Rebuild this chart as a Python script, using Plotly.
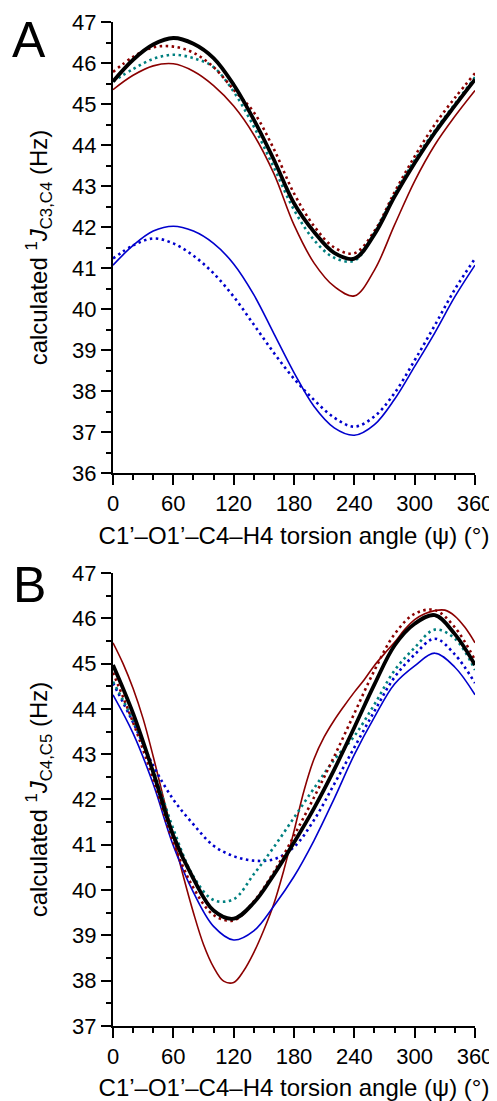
import plotly.graph_objects as go

angles = list(range(0, 361, 20))
angles_fine = list(range(0, 361, 10))

# Panel A: 1J C3,C4
a_black = [45.55, 46.08, 46.45, 46.61, 46.47, 46.12, 45.47, 44.62, 43.64, 42.58, 41.88, 41.37, 41.23, 41.82, 42.74, 43.56, 44.3, 44.96, 45.6]
a_red_dot = [45.78, 46.15, 46.38, 46.4, 46.25, 45.9, 45.35, 44.8, 43.9, 42.82, 42.02, 41.5, 41.36, 41.9, 42.85, 43.72, 44.5, 45.15, 45.75]
a_teal_dot = [45.55, 45.85, 46.1, 46.2, 46.12, 45.9, 45.3, 44.45, 43.45, 42.42, 41.68, 41.25, 41.18, 41.86, 42.8, 43.63, 44.35, 45.0, 45.65]
a_red = [45.35, 45.7, 45.93, 45.98, 45.8, 45.45, 44.95, 44.25, 43.3, 42.05, 41.12, 40.55, 40.32, 40.95, 42.05, 43.12, 44.0, 44.7, 45.33]
a_blue = [41.07, 41.55, 41.9, 42.02, 41.9, 41.6, 41.1, 40.35, 39.4, 38.45, 37.62, 37.1, 36.92, 37.18, 37.8, 38.6, 39.42, 40.3, 41.07]
a_blue_dot = [41.23, 41.55, 41.72, 41.6, 41.3, 40.87, 40.3, 39.62, 38.93, 38.3, 37.78, 37.35, 37.13, 37.38, 37.95, 38.75, 39.6, 40.48, 41.23]

# Panel B: 1J C4,C5
b_black = [44.97, 43.9, 42.6, 41.2, 40.25, 39.55, 39.37, 39.72, 40.34, 41.05, 41.81, 42.66, 43.59, 44.54, 45.4, 45.88, 46.07, 45.65, 44.97]
b_red_dot = [44.8, 43.7, 42.45, 41.05, 40.05, 39.45, 39.33, 39.75, 40.4, 41.2, 42.05, 42.95, 43.9, 44.85, 45.65, 46.1, 46.18, 45.8, 45.08]
b_teal_dot = [44.6, 43.75, 42.65, 41.35, 40.3, 39.78, 39.8, 40.35, 40.95, 41.6, 42.25, 42.88, 43.4, 44.1, 44.85, 45.35, 45.75, 45.55, 44.86]
# thin dark-red solid in B read at 10 degree steps (sharper features)
b_red = [45.46, 45.0, 44.45, 43.78, 42.95, 42.05, 41.17, 40.3, 39.5, 38.8, 38.3, 37.99, 37.96, 38.22, 38.62, 39.12, 39.7, 40.45, 41.3,
         42.2, 42.9, 43.38, 43.75, 44.07, 44.37, 44.65, 44.96, 45.22, 45.47, 45.75, 45.97, 46.1, 46.17, 46.18, 46.05, 45.8, 45.46]
b_blue = [44.31, 43.46, 42.34, 40.98, 39.95, 39.2, 38.9, 39.1, 39.65, 40.3, 41.1, 42.02, 42.99, 43.82, 44.55, 44.95, 45.23, 44.92, 44.31]
b_blue_dot = [44.57, 43.7, 42.75, 42.0, 41.45, 40.98, 40.75, 40.65, 40.68, 40.95, 41.55, 42.34, 43.15, 43.95, 44.7, 45.2, 45.55, 45.2, 44.57]

x_ticks = [0, 60, 120, 180, 240, 300, 360]

RED = "#8B0000"
TEAL = "#008080"
BLUE = "#0000CD"
DOT = "2.5px,3.5px"

FONT = "Liberation Sans, Arial, Helvetica, sans-serif"

fig = go.Figure()

def add_panel(xa, ya, black, red_dot, teal_dot, red, blue, blue_dot, red_x=angles):
    specs = [
        (red_x, red, dict(color=RED, width=1.6)),
        (angles, blue, dict(color=BLUE, width=1.6)),
        (angles, blue_dot, dict(color=BLUE, width=2.6, dash=DOT)),
        (angles, teal_dot, dict(color=TEAL, width=2.6, dash=DOT)),
        (angles, red_dot, dict(color=RED, width=2.6, dash=DOT)),
        (angles, black, dict(color="black", width=3.8)),
    ]
    for xs, ys, ln in specs:
        fig.add_trace(go.Scatter(x=xs, y=ys, mode="lines", line=dict(shape="spline", smoothing=1.0, **ln),
                                 xaxis=xa, yaxis=ya, showlegend=False, hoverinfo="skip"))

add_panel("x", "y", a_black, a_red_dot, a_teal_dot, a_red, a_blue, a_blue_dot)
add_panel("x2", "y2", b_black, b_red_dot, b_teal_dot, b_red, b_blue, b_blue_dot, red_x=angles_fine)

xcommon = dict(range=[0, 360], tickmode="array", tickvals=x_ticks, ticks="outside", ticklen=10, tickwidth=2,
               tickcolor="black", showline=True, linecolor="black", linewidth=2, showgrid=False, zeroline=False,
               automargin=False,
               tickfont=dict(family=FONT, size=22, color="black"),
               minor=dict(dtick=20, ticks="outside", ticklen=5, tickwidth=1.5, tickcolor="black", showgrid=False),
               title=dict(text="C1’–O1’–C4–H4 torsion angle (ψ) (°)", font=dict(family=FONT, size=24, color="black"), standoff=12))
ycommon = dict(dtick=1, ticks="outside", ticklen=10, tickwidth=2, tickcolor="black", showline=True,
               linecolor="black", linewidth=2, showgrid=False, zeroline=False, automargin=False,
               tickfont=dict(family=FONT, size=22, color="black"),
               minor=dict(dtick=0.5, ticks="outside", ticklen=5, tickwidth=1.5, tickcolor="black", showgrid=False))

# The page body has an 8px margin, so the figure is sized/offset to compensate.
fig.update_layout(
    width=489, height=1093,
    paper_bgcolor="white", plot_bgcolor="white",
    margin=dict(l=105, r=22, t=14, b=75, autoexpand=False),
    xaxis=dict(domain=[0, 1], anchor="y", **xcommon),
    yaxis=dict(domain=[0.5508, 1.0], anchor="x", range=[36, 47],
               title=dict(text="calculated <sup>1</sup><i>J</i><sub>C3,C4</sub> (Hz)", font=dict(family=FONT, size=24, color="black"), standoff=18),
               **ycommon),
    xaxis2=dict(domain=[0, 1], anchor="y2", **xcommon),
    yaxis2=dict(domain=[0, 0.4512], anchor="x2", range=[37, 47],
                title=dict(text="calculated <sup>1</sup><i>J</i><sub>C4,C5</sub> (Hz)", font=dict(family=FONT, size=24, color="black"), standoff=18),
                **ycommon),
    annotations=[
        dict(text="A", x=-0.232, y=0.982, xref="paper", yref="paper", showarrow=False,
             font=dict(family=FONT, size=50, color="black"), xanchor="center", yanchor="middle"),
        dict(text="B", x=-0.232, y=0.439, xref="paper", yref="paper", showarrow=False,
             font=dict(family=FONT, size=50, color="black"), xanchor="center", yanchor="middle"),
    ],
)

fig.write_html("out.html")
